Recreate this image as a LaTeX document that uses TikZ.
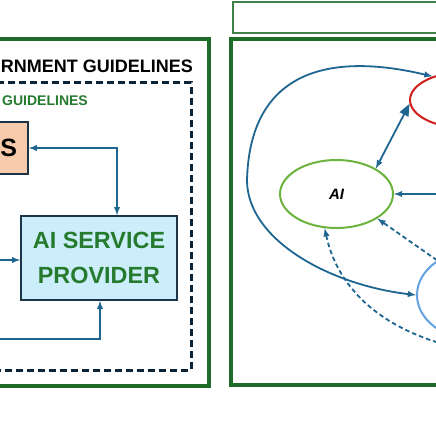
\documentclass[tikz,border=0pt]{standalone}
\usepackage{fontspec}
\setmainfont{Liberation Sans}
\usepackage{tikz}
\usetikzlibrary{arrows,shapes.geometric}
\definecolor{frameGreen}{HTML}{1F6B29}
\definecolor{guideNavy}{HTML}{0B2337}
\definecolor{linkBlue}{HTML}{1E6590}
\definecolor{boxEdge}{HTML}{1B3447}
\definecolor{peach}{HTML}{F8CBAD}
\definecolor{paleBlue}{HTML}{CCEEFA}
\definecolor{textGreen}{HTML}{267A2E}
\definecolor{aiGreen}{HTML}{6CB33E}
\definecolor{ringRed}{HTML}{D11F1F}
\definecolor{ringBlue}{HTML}{64A2E3}

\begin{document}
\begin{tikzpicture}[>=latex,x=1pt,y=-1pt,
	panel/.style={draw=frameGreen,line width=3.5pt},
	link/.style={draw=linkBlue,line width=1.8pt},
	dlink/.style={link,dash pattern=on 4.5pt off 3pt},
	actor/.style={draw=boxEdge,line width=1.6pt,inner sep=0pt},
	ring/.style={ellipse,draw,line width=2pt,inner sep=0pt}]
	\useasboundingbox (0,0) rectangle (435,435);
	\draw[panel] (-300,39) rectangle (209,386);
	\draw[draw=guideNavy,line width=3pt,dash pattern=on 7pt off 4pt] (-280,83) rectangle (191,370);
	\node[anchor=east,inner sep=0pt,font=\fontsize{18}{20}\selectfont\bfseries] (govTitle) at (193,66) {GOVERNMENT GUIDELINES};
	\node[anchor=east,inner sep=0pt,text=textGreen,font=\fontsize{14}{16}\selectfont\bfseries] (orgTitle) at (88,101) {ORGANIZATIONAL GUIDELINES};
	\node[actor,fill=peach,minimum width=108pt,minimum height=52pt,font=\fontsize{25}{28}\selectfont\bfseries] (users) at (-26,148) {USERS};
	\node[actor,fill=paleBlue,minimum width=156pt,minimum height=84pt,align=center,text=textGreen,font=\fontsize{23.4}{35}\selectfont\bfseries] (asp) at (99,258) {AI SERVICE\\PROVIDER};
	\coordinate (leftIn) at (-40,260);
	\coordinate (leftLow) at (-40,339);
	\draw[link,<->] (users.east) -| ([xshift=18pt]asp.north);
	\draw[link,->] (leftIn) -- (leftIn -| asp.west);
	\draw[link,->] (leftLow) -| ([xshift=1pt]asp.south);

	\draw[draw=frameGreen!85,line width=1.6pt] (233,2) rectangle (600,33);
	\draw[panel] (231,39) rectangle (700,385);
	\node[ring,draw=aiGreen,minimum width=113pt,minimum height=68pt,font=\fontsize{15}{17}\selectfont\bfseries\itshape] (ai) at (336.5,194) {AI};
	\node[ring,draw=ringRed,minimum width=110pt,minimum height=56pt] (riskRing) at (465,100) {};
	\node[ring,draw=ringBlue,minimum width=120pt,minimum height=90pt] (userRing) at (477,295) {};
	\coordinate (loopL) at (247,180);
	\coordinate (rightIn) at (470,194);
	\coordinate (lowR) at (480,352);
	\draw[link,<->] (riskRing.144) .. controls (330,52) and (250,70) .. (loopL) .. controls (247,240) and (330,285) .. (userRing.west);
	\draw[link,latex-triangle 45] (ai.33) -- (riskRing.184);
	\draw[link,->] (rightIn) -- (ai.east);
	\draw[dlink,->] (userRing.139) -- (ai.329);
	\draw[dlink,<-] (ai.251) .. controls (340,300) and (400,340) .. (lowR);
\end{tikzpicture}
\end{document}
